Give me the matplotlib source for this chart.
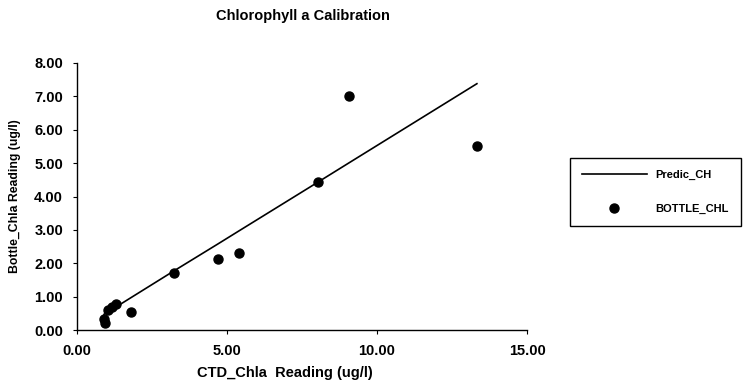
import matplotlib
matplotlib.use("Agg")
import matplotlib.pyplot as plt

# CTD readings vs bottle samples
ctd_chla = [0.90, 0.92, 1.03, 1.17, 1.30, 1.80, 3.23, 4.70, 5.40, 8.03, 9.07, 13.33]
bottle_chl = [0.33, 0.22, 0.60, 0.69, 0.78, 0.55, 1.72, 2.13, 2.30, 4.43, 7.00, 5.52]
predic_ch = [0.47, 0.48, 0.54, 0.62, 0.69, 0.97, 1.77, 2.58, 2.97, 4.43, 5.01, 7.38]

x_ticks = [0, 5, 10, 15]
y_ticks = [0, 1, 2, 3, 4, 5, 6, 7, 8]

plt.rcParams['font.family'] = ['Liberation Sans', 'DejaVu Sans']
plt.rcParams['font.weight'] = 'bold'

W, H = 747, 382
fig = plt.figure(figsize=(W / 100, H / 100), dpi=100)
ax = fig.add_axes([77 / W, 1 - 330 / H, 450 / W, 267 / H])

ax.plot(ctd_chla, predic_ch, color='black', lw=1.2, label='Predic_CH')
ax.plot(ctd_chla, bottle_chl, 'o', color='black', ms=6.5, label='BOTTLE_CHL')

ax.set_xlim(0, 15)
ax.set_ylim(0, 8)
ax.set_xticks(x_ticks)
ax.set_yticks(y_ticks)
ax.set_xticklabels([f"{v:.2f}" for v in x_ticks], fontsize=10.5, fontweight='bold')
ax.set_yticklabels([f"{v:.2f}" for v in y_ticks], fontsize=10.5, fontweight='bold')
ax.tick_params(length=3, width=0.8, pad=7)
ax.spines['top'].set_visible(False)
ax.spines['right'].set_visible(False)
ax.spines['left'].set_linewidth(1.0)
ax.spines['bottom'].set_linewidth(1.0)

ax.set_xlabel("CTD_Chla  Reading (ug/l)", fontsize=10.5, fontweight='bold')
ax.xaxis.set_label_coords((285 - 77) / 450, -(366 - 330) / 267)
ax.set_ylabel("Bottle_Chla Reading (ug/l)", fontsize=8.8, fontweight='bold')
ax.yaxis.set_label_coords(-(77 - 21) / 450, 0.5)
fig.text(303 / W, 1 - 16 / H, "Chlorophyll a Calibration", ha='center', va='center',
         fontsize=10.5, fontweight='bold')

leg = ax.legend(loc='upper left', bbox_to_anchor=(570 / W, 1 - 158 / H),
                bbox_transform=fig.transFigure, borderaxespad=0,
                fontsize=8, handlelength=5.8, labelspacing=2.1, borderpad=1.1,
                handletextpad=0.8, fancybox=False, framealpha=1, edgecolor='black')
leg.get_frame().set_linewidth(1.0)
for t in leg.get_texts():
    t.set_fontweight('bold')

fig.savefig("out.png", dpi=100)
